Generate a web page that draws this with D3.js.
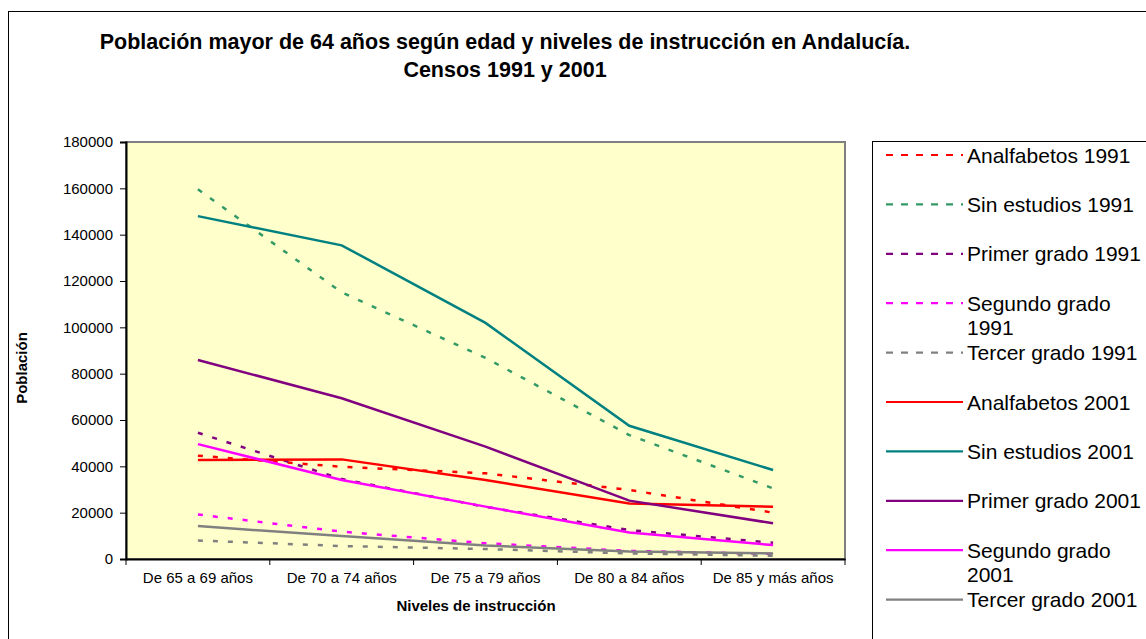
<!DOCTYPE html>
<html>
<head>
<meta charset="utf-8">
<script src="https://cdn.jsdelivr.net/npm/d3@7"></script>
<style>
  body { margin: 0; background: #fff; }
  svg { display: block; font-family: 'Liberation Sans', Arial, sans-serif; }
</style>
</head>
<body>
<div id="chart"></div>
<script>
// Categorías del eje X
const ageGroups = ['De 65 a 69 años', 'De 70 a 74 años', 'De 75 a 79 años', 'De 80 a 84 años', 'De 85 y más años']
const yTicks = [0, 20000, 40000, 60000, 80000, 100000, 120000, 140000, 160000, 180000]

// Valores
const analfabetos1991 = [44600, 39800, 37000, 29800, 20000]
const sinEstudios1991 = [159600, 115100, 86800, 53500, 30500]
const primerGrado1991 = [54500, 34500, 22500, 12500, 7000]
const segundoGrado1991 = [19200, 11800, 6800, 3500, 2200]
const tercerGrado1991 = [8000, 5600, 4300, 2400, 1400]
const analfabetos2001 = [42700, 43000, 34100, 24000, 22600]
const sinEstudios2001 = [148000, 135400, 101900, 57500, 38400]
const primerGrado2001 = [85900, 69400, 48500, 25200, 15400]
const segundoGrado2001 = [49600, 34100, 22600, 11400, 6000]
const tercerGrado2001 = [14200, 9900, 5800, 3200, 2400]

const seriesNames = [
  'Analfabetos 1991', 'Sin estudios 1991', 'Primer grado 1991', 'Segundo grado 1991', 'Tercer grado 1991',
  'Analfabetos 2001', 'Sin estudios 2001', 'Primer grado 2001', 'Segundo grado 2001', 'Tercer grado 2001',
]
const seriesValues = [
  analfabetos1991, sinEstudios1991, primerGrado1991, segundoGrado1991, tercerGrado1991,
  analfabetos2001, sinEstudios2001, primerGrado2001, segundoGrado2001, tercerGrado2001,
]
const seriesColors = ['#ff0000', '#339966', '#800080', '#ff00ff', '#808080',
                      '#ff0000', '#008080', '#800080', '#ff00ff', '#808080']

const width = 1146
const height = 639
const plot = { left: 126, right: 845, top: 142, bottom: 559 }

const series = seriesNames.map((name, i) => ({
  name,
  values: seriesValues[i],
  color: seriesColors[i],
  dashed: i < 5,
}))

const svg = d3.select('#chart').append('svg').attr('width', width).attr('height', height)

// Marco exterior del gráfico
svg.append('rect')
  .attr('x', 8.5).attr('y', 11.5)
  .attr('width', width + 20).attr('height', height + 20)
  .attr('fill', '#fff').attr('stroke', '#000')

// Título
const title = svg.append('text')
  .attr('text-anchor', 'middle')
  .attr('font-size', 21.5)
  .attr('font-weight', 'bold')
title.append('tspan').attr('x', 505).attr('y', 49)
  .text('Población mayor de 64 años según edad y niveles de instrucción en Andalucía.')
title.append('tspan').attr('x', 505).attr('y', 77).text('Censos 1991 y 2001')

const x = d3.scaleBand().domain(ageGroups).range([plot.left, plot.right])
const y = d3.scaleLinear().domain([0, 180000]).range([plot.bottom, plot.top])

// Área del gráfico
svg.append('rect')
  .attr('x', plot.left).attr('y', plot.top)
  .attr('width', plot.right - plot.left).attr('height', plot.bottom - plot.top)
  .attr('fill', '#ffffcc').attr('stroke', '#808080').attr('stroke-width', 2)

// Ejes
const yAxis = svg.append('g')
  .attr('transform', `translate(${plot.left},0)`)
  .call(d3.axisLeft(y).tickValues(yTicks).tickSize(6).tickPadding(7).tickFormat(d3.format('d')))
yAxis.select('.domain').attr('stroke', '#000').attr('stroke-width', 2)
yAxis.selectAll('text').attr('font-size', 15).attr('fill', '#000').attr('font-family', 'Liberation Sans, Arial')

const xAxis = svg.append('g')
  .attr('transform', `translate(0,${plot.bottom})`)
  .call(d3.axisBottom(x).tickSize(0).tickPadding(13))
xAxis.select('.domain').attr('stroke', '#000').attr('stroke-width', 2)
xAxis.selectAll('text').attr('font-size', 15).attr('fill', '#000').attr('font-family', 'Liberation Sans, Arial')

// Marcas entre categorías
svg.append('g')
  .selectAll('line')
  .data(ageGroups.concat(['end']))
  .join('line')
  .attr('x1', (d, i) => plot.left + i * x.bandwidth())
  .attr('x2', (d, i) => plot.left + i * x.bandwidth())
  .attr('y1', plot.bottom).attr('y2', plot.bottom + 6)
  .attr('stroke', '#000')

svg.append('text')
  .attr('x', 476).attr('y', 611)
  .attr('text-anchor', 'middle')
  .attr('font-size', 15).attr('font-weight', 'bold')
  .text('Niveles de instrucción')

svg.append('text')
  .attr('transform', 'translate(27,368) rotate(-90)')
  .attr('text-anchor', 'middle')
  .attr('font-size', 15).attr('font-weight', 'bold')
  .text('Población')

// Líneas
const line = d3.line()
  .x((d, i) => x(ageGroups[i]) + x.bandwidth() / 2)
  .y((d) => y(d))

svg.append('g')
  .selectAll('path')
  .data(series)
  .join('path')
  .attr('d', (d) => line(d.values))
  .attr('fill', 'none')
  .attr('stroke', (d) => d.color)
  .attr('stroke-width', 2.5)
  .attr('stroke-dasharray', (d) => (d.dashed ? '5,10' : null))

// Leyenda
const legendTop = 141
svg.append('rect')
  .attr('x', 872.5).attr('y', legendTop + 0.5)
  .attr('width', 400).attr('height', 600)
  .attr('fill', '#fff').attr('stroke', '#000')

const rowStep = 49.4
const legend = svg.append('g')
  .selectAll('g')
  .data(series)
  .join('g')
  .attr('transform', (d, i) => `translate(0,${155 + i * rowStep})`)

legend.append('line')
  .attr('x1', 886).attr('x2', 963)
  .attr('stroke', (d) => d.color)
  .attr('stroke-width', 2.2)
  .attr('stroke-dasharray', (d) => (d.dashed ? '7,8' : null))

legend.append('text')
  .attr('font-size', 21)
  .each(function (d) {
    const t = d3.select(this)
    const parts = d.name.startsWith('Segundo') ? ['Segundo grado', d.name.slice(14)] : [d.name]
    parts.forEach((p, k) => {
      t.append('tspan').attr('x', 967).attr('y', 7.5 + k * 24).text(p)
    })
  })
</script>
</body>
</html>
